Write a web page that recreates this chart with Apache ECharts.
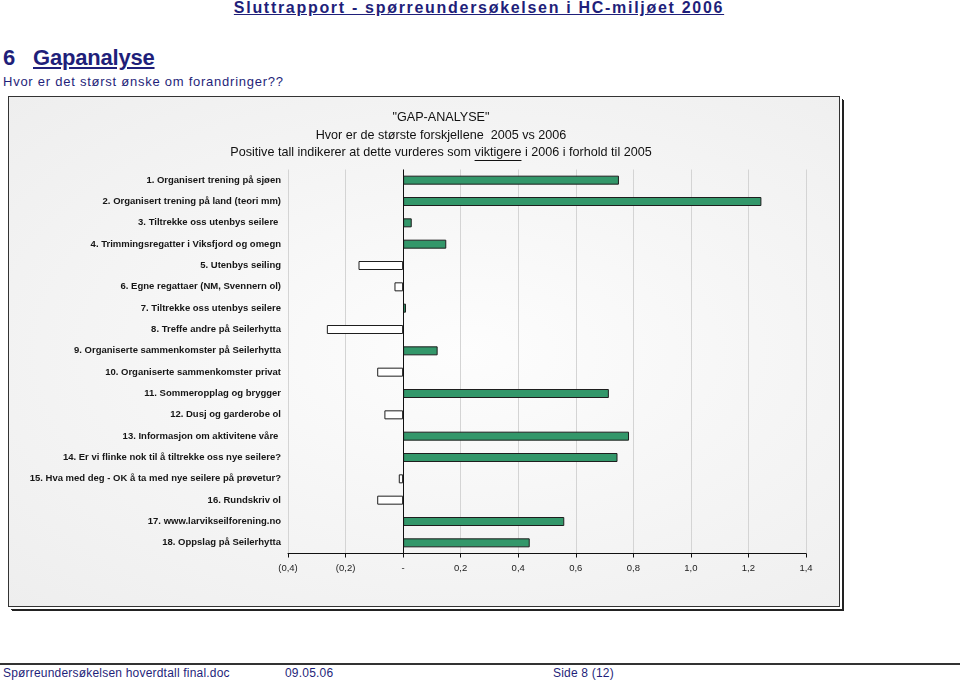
<!DOCTYPE html>
<html>
<head>
<meta charset="utf-8">
<script src="https://cdn.jsdelivr.net/npm/echarts@6/dist/echarts.min.js"></script>
<style>
  html, body { margin: 0; padding: 0; background: #fff; }
  body { width: 960px; height: 683px; position: relative; overflow: hidden; font-family: "Liberation Sans", Arial, sans-serif; color: #1f1f7a; }
  .abs { position: absolute; white-space: nowrap; }
  #hdr { left: 0; width: 958px; top: -1px; text-align: center; font-weight: bold; font-size: 16px; letter-spacing: 1.7px; text-decoration: underline; }
  #h1num { left: 3px; top: 45px; font-weight: bold; font-size: 22px; }
  #h1txt { left: 33px; top: 45px; font-weight: bold; font-size: 22px; text-decoration: underline; letter-spacing: -0.2px; }
  #sub { left: 3px; top: 74px; font-size: 13px; letter-spacing: 0.75px; }
  #box { position: absolute; left: 8px; top: 96px; width: 830px; height: 509px; border: 1px solid #333;
         background: radial-gradient(ellipse at 55% 50%, #fdfdfd 0%, #f6f6f6 45%, #eeeeee 100%);
         box-shadow: 2px 2px 0 0 #fff, 3px 3px 0 0 #222, 4px 4px 0 0 #222; }
  #footline { left: 0; top: 663px; width: 960px; height: 2px; background: #333; }
  .foot { top: 666px; font-size: 12px; letter-spacing: 0.2px; }
  #chart { position: absolute; left: 0; top: 0; width: 960px; height: 683px; }
</style>
</head>
<body>
<div id="box"></div>
<div class="abs" id="hdr">Sluttrapport - spørreundersøkelsen i HC-miljøet 2006</div>
<div class="abs" id="h1num">6</div>
<div class="abs" id="h1txt">Gapanalyse</div>
<div class="abs" id="sub">Hvor er det størst ønske om forandringer??</div>
<div class="abs" id="footline"></div>
<div class="abs foot" style="left:3px">Spørreundersøkelsen hoverdtall final.doc</div>
<div class="abs foot" style="left:285px">09.05.06</div>
<div class="abs foot" style="left:553px">Side 8 (12)</div>
<div id="chart"></div>
<script>
// ---- data ----
const categories = [
  "1. Organisert trening på sjøen",
  "2. Organisert trening på land (teori mm)",
  "3. Tiltrekke oss utenbys seilere ",
  "4. Trimmingsregatter i Viksfjord og omegn",
  "5. Utenbys seiling",
  "6. Egne regattaer (NM, Svennern ol)",
  "7. Tiltrekke oss utenbys seilere",
  "8. Treffe andre på Seilerhytta",
  "9. Organiserte sammenkomster på Seilerhytta",
  "10. Organiserte sammenkomster privat",
  "11. Sommeropplag og brygger",
  "12. Dusj og garderobe ol",
  "13. Informasjon om aktivitene våre ",
  "14. Er vi flinke nok til å tiltrekke oss nye seilere?",
  "15. Hva med deg - OK å ta med nye seilere på prøvetur?",
  "16. Rundskriv ol",
  "17. www.larvikseilforening.no",
  "18. Oppslag på Seilerhytta"
];
const gapValues = [0.75, 1.245, 0.03, 0.15, -0.155, -0.03, 0.01, -0.265, 0.12, -0.09, 0.715, -0.065, 0.785, 0.745, -0.015, -0.09, 0.56, 0.44];
const tickLabels = ["(0,4)", "(0,2)", "-", "0,2", "0,4", "0,6", "0,8", "1,0", "1,2", "1,4"];
const axisMin = -0.4, axisMax = 1.4, axisStep = 0.2;
const titleLines = ['"GAP-ANALYSE"', 'Hvor er de største forskjellene  2005 vs 2006'];
const title3Parts = ['Positive tall indikerer at dette vurderes som ', 'viktigere', ' i 2006 i forhold til 2005'];

// ---- layout helpers ----
const titleFont = '12.6px "Liberation Sans", Arial, sans-serif';
const mctx = document.createElement('canvas').getContext('2d');
mctx.font = titleFont;
const w0 = mctx.measureText(title3Parts[0]).width;
const w1 = mctx.measureText(title3Parts[1]).width;
const wAll = mctx.measureText(title3Parts.join('')).width;
const cx = 441;
const t3left = cx - wAll / 2;

const chart = echarts.init(document.getElementById('chart'), null, { renderer: 'canvas' });
chart.setOption({
  animation: false,
  backgroundColor: 'transparent',
  grid: { left: 288, right: 154, top: 169.5, bottom: 129.5, containLabel: false },
  xAxis: {
    type: 'value', min: axisMin, max: axisMax, interval: axisStep,
    axisLine: { show: true, onZero: false, lineStyle: { color: '#111', width: 1 } },
    axisTick: { show: true, length: 4, lineStyle: { color: '#111' } },
    axisLabel: {
      margin: 10, color: '#222', fontSize: 9.5, fontFamily: 'Liberation Sans, Arial, sans-serif',
      formatter: function (v) { return tickLabels[Math.round((v - axisMin) / axisStep)]; }
    },
    splitLine: { show: true, lineStyle: { color: '#d4d4d4', width: 1 } }
  },
  yAxis: {
    type: 'category', data: categories, inverse: true,
    axisLine: { show: false, onZero: false },
    axisTick: { show: false },
    axisLabel: { margin: 7, color: '#151515', fontSize: 9.5, fontWeight: 'bold', fontFamily: 'Liberation Sans, Arial, sans-serif' }
  },
  series: [{
    type: 'bar',
    barWidth: 9,
    data: gapValues.map(v => ({ value: v, itemStyle: { color: v < 0 ? '#ffffff' : '#33976a' } })),
    itemStyle: { borderColor: '#1e1e1e', borderWidth: 1 },
    markLine: {
      silent: true, symbol: 'none', label: { show: false },
      lineStyle: { color: '#111', type: 'solid', width: 1 },
      data: [{ xAxis: 0 }]
    }
  }],
  graphic: [
    { type: 'text', x: cx, y: 118, style: { text: titleLines[0], font: titleFont, fill: '#111', align: 'center', verticalAlign: 'middle' } },
    { type: 'text', x: cx, y: 136, style: { text: titleLines[1], font: titleFont, fill: '#111', align: 'center', verticalAlign: 'middle' } },
    { type: 'text', x: cx, y: 153, style: { text: title3Parts.join(''), font: titleFont, fill: '#111', align: 'center', verticalAlign: 'middle' } },
    { type: 'line', shape: { x1: t3left + w0, y1: 160.5, x2: t3left + w0 + w1, y2: 160.5 }, style: { stroke: '#111', lineWidth: 1 } }
  ]
});
</script>
</body>
</html>
